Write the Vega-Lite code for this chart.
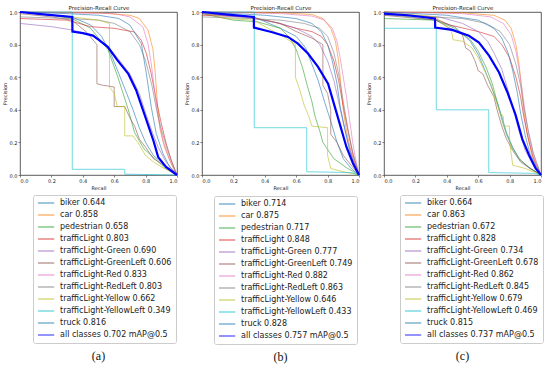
{
"$schema":"https://vega.github.io/schema/vega-lite/v6.json",
"background":"white",
"padding":{"left":1,"top":4,"right":2,"bottom":2},
"config":{
 "font":"DejaVu Sans",
 "view":{"stroke":"#333","strokeWidth":0.8},
 "axis":{"labelFont":"DejaVu Sans","labelFontSize":5,"labelColor":"#222","titleFont":"DejaVu Sans","titleFontSize":5,"titleFontWeight":"normal","titleColor":"#222","tickSize":2,"tickColor":"#333","tickWidth":0.6,"domain":false,"grid":false,"labelPadding":1,"titlePadding":2},
 "title":{"font":"Liberation Serif","fontSize":12,"fontWeight":"normal","color":"#111","offset":7},
 "legend":{"orient":"none","strokeColor":"#ccc","fillColor":"white","cornerRadius":2,"padding":4,"labelFont":"DejaVu Sans","labelFontSize":8,"labelColor":"#222","rowPadding":4,"symbolType":"M-1,0H4.4","symbolSize":36,"symbolStrokeWidth":1.3,"symbolOpacity":0.65,"labelOffset":15,"labelLimit":300}
},
"datasets":{
"a":[
{"s":"biker 0.644","r":0,"p":1},{"s":"biker 0.644","r":0.2,"p":0.98},{"s":"biker 0.644","r":0.33,"p":0.97},{"s":"biker 0.644","r":0.45,"p":0.92},{"s":"biker 0.644","r":0.52,"p":0.85},{"s":"biker 0.644","r":0.58,"p":0.74},{"s":"biker 0.644","r":0.63,"p":0.62},{"s":"biker 0.644","r":0.68,"p":0.5},{"s":"biker 0.644","r":0.72,"p":0.4},{"s":"biker 0.644","r":0.76,"p":0.29},{"s":"biker 0.644","r":0.8,"p":0.2},{"s":"biker 0.644","r":0.85,"p":0.12},{"s":"biker 0.644","r":0.92,"p":0.06},{"s":"biker 0.644","r":1,"p":0},
{"s":"car 0.858","r":0,"p":1},{"s":"car 0.858","r":0.5,"p":0.995},{"s":"car 0.858","r":0.7,"p":0.98},{"s":"car 0.858","r":0.76,"p":0.96},{"s":"car 0.858","r":0.815,"p":0.89},{"s":"car 0.858","r":0.847,"p":0.77},{"s":"car 0.858","r":0.862,"p":0.62},{"s":"car 0.858","r":0.875,"p":0.44},{"s":"car 0.858","r":0.89,"p":0.29},{"s":"car 0.858","r":0.92,"p":0.17},{"s":"car 0.858","r":0.964,"p":0.07},{"s":"car 0.858","r":1,"p":0},
{"s":"pedestrian 0.658","r":0,"p":1},{"s":"pedestrian 0.658","r":0.2,"p":0.98},{"s":"pedestrian 0.658","r":0.33,"p":0.96},{"s":"pedestrian 0.658","r":0.45,"p":0.9},{"s":"pedestrian 0.658","r":0.56,"p":0.77},{"s":"pedestrian 0.658","r":0.62,"p":0.61},{"s":"pedestrian 0.658","r":0.69,"p":0.4},{"s":"pedestrian 0.658","r":0.73,"p":0.26},{"s":"pedestrian 0.658","r":0.79,"p":0.16},{"s":"pedestrian 0.658","r":0.86,"p":0.1},{"s":"pedestrian 0.658","r":0.92,"p":0.045},{"s":"pedestrian 0.658","r":1,"p":0},
{"s":"trafficLight 0.803","r":0,"p":0.96},{"s":"trafficLight 0.803","r":0.3,"p":0.95},{"s":"trafficLight 0.803","r":0.45,"p":0.91},{"s":"trafficLight 0.803","r":0.6,"p":0.9},{"s":"trafficLight 0.803","r":0.73,"p":0.877},{"s":"trafficLight 0.803","r":0.773,"p":0.826},{"s":"trafficLight 0.803","r":0.805,"p":0.745},{"s":"trafficLight 0.803","r":0.836,"p":0.62},{"s":"trafficLight 0.803","r":0.868,"p":0.46},{"s":"trafficLight 0.803","r":0.9,"p":0.315},{"s":"trafficLight 0.803","r":0.932,"p":0.19},{"s":"trafficLight 0.803","r":0.964,"p":0.09},{"s":"trafficLight 0.803","r":1,"p":0},
{"s":"trafficLight-Green 0.690","r":0,"p":0.93},{"s":"trafficLight-Green 0.690","r":0.2,"p":0.91},{"s":"trafficLight-Green 0.690","r":0.33,"p":0.89},{"s":"trafficLight-Green 0.690","r":0.45,"p":0.86},{"s":"trafficLight-Green 0.690","r":0.55,"p":0.8},{"s":"trafficLight-Green 0.690","r":0.62,"p":0.72},{"s":"trafficLight-Green 0.690","r":0.7,"p":0.62},{"s":"trafficLight-Green 0.690","r":0.76,"p":0.5},{"s":"trafficLight-Green 0.690","r":0.8,"p":0.38},{"s":"trafficLight-Green 0.690","r":0.84,"p":0.27},{"s":"trafficLight-Green 0.690","r":0.88,"p":0.17},{"s":"trafficLight-Green 0.690","r":0.93,"p":0.08},{"s":"trafficLight-Green 0.690","r":1,"p":0},
{"s":"trafficLight-GreenLeft 0.606","r":0,"p":0.99},{"s":"trafficLight-GreenLeft 0.606","r":0.2,"p":0.97},{"s":"trafficLight-GreenLeft 0.606","r":0.33,"p":0.95},{"s":"trafficLight-GreenLeft 0.606","r":0.42,"p":0.88},{"s":"trafficLight-GreenLeft 0.606","r":0.49,"p":0.8},{"s":"trafficLight-GreenLeft 0.606","r":0.49,"p":0.56},{"s":"trafficLight-GreenLeft 0.606","r":0.53,"p":0.55},{"s":"trafficLight-GreenLeft 0.606","r":0.6,"p":0.54},{"s":"trafficLight-GreenLeft 0.606","r":0.6,"p":0.42},{"s":"trafficLight-GreenLeft 0.606","r":0.667,"p":0.42},{"s":"trafficLight-GreenLeft 0.606","r":0.7,"p":0.35},{"s":"trafficLight-GreenLeft 0.606","r":0.73,"p":0.3},{"s":"trafficLight-GreenLeft 0.606","r":0.76,"p":0.22},{"s":"trafficLight-GreenLeft 0.606","r":0.8,"p":0.17},{"s":"trafficLight-GreenLeft 0.606","r":0.85,"p":0.1},{"s":"trafficLight-GreenLeft 0.606","r":0.9,"p":0.07},{"s":"trafficLight-GreenLeft 0.606","r":1,"p":0},
{"s":"trafficLight-Red 0.833","r":0,"p":1},{"s":"trafficLight-Red 0.833","r":0.3,"p":0.995},{"s":"trafficLight-Red 0.833","r":0.6,"p":0.99},{"s":"trafficLight-Red 0.833","r":0.7,"p":0.97},{"s":"trafficLight-Red 0.833","r":0.783,"p":0.908},{"s":"trafficLight-Red 0.833","r":0.815,"p":0.806},{"s":"trafficLight-Red 0.833","r":0.836,"p":0.683},{"s":"trafficLight-Red 0.833","r":0.857,"p":0.52},{"s":"trafficLight-Red 0.833","r":0.879,"p":0.355},{"s":"trafficLight-Red 0.833","r":0.911,"p":0.212},{"s":"trafficLight-Red 0.833","r":0.953,"p":0.09},{"s":"trafficLight-Red 0.833","r":1,"p":0},
{"s":"trafficLight-RedLeft 0.803","r":0,"p":0.97},{"s":"trafficLight-RedLeft 0.803","r":0.3,"p":0.96},{"s":"trafficLight-RedLeft 0.803","r":0.5,"p":0.95},{"s":"trafficLight-RedLeft 0.803","r":0.6,"p":0.93},{"s":"trafficLight-RedLeft 0.803","r":0.7,"p":0.88},{"s":"trafficLight-RedLeft 0.803","r":0.76,"p":0.8},{"s":"trafficLight-RedLeft 0.803","r":0.8,"p":0.7},{"s":"trafficLight-RedLeft 0.803","r":0.84,"p":0.55},{"s":"trafficLight-RedLeft 0.803","r":0.87,"p":0.4},{"s":"trafficLight-RedLeft 0.803","r":0.9,"p":0.28},{"s":"trafficLight-RedLeft 0.803","r":0.94,"p":0.15},{"s":"trafficLight-RedLeft 0.803","r":0.97,"p":0.07},{"s":"trafficLight-RedLeft 0.803","r":1,"p":0},
{"s":"trafficLight-Yellow 0.662","r":0,"p":1},{"s":"trafficLight-Yellow 0.662","r":0.33,"p":0.97},{"s":"trafficLight-Yellow 0.662","r":0.5,"p":0.95},{"s":"trafficLight-Yellow 0.662","r":0.57,"p":0.93},{"s":"trafficLight-Yellow 0.662","r":0.57,"p":0.54},{"s":"trafficLight-Yellow 0.662","r":0.6,"p":0.5},{"s":"trafficLight-Yellow 0.662","r":0.62,"p":0.42},{"s":"trafficLight-Yellow 0.662","r":0.667,"p":0.42},{"s":"trafficLight-Yellow 0.662","r":0.667,"p":0.24},{"s":"trafficLight-Yellow 0.662","r":0.72,"p":0.24},{"s":"trafficLight-Yellow 0.662","r":0.75,"p":0.2},{"s":"trafficLight-Yellow 0.662","r":0.8,"p":0.12},{"s":"trafficLight-Yellow 0.662","r":0.85,"p":0.08},{"s":"trafficLight-Yellow 0.662","r":0.9,"p":0.05},{"s":"trafficLight-Yellow 0.662","r":1,"p":0},
{"s":"trafficLight-YellowLeft 0.349","r":0,"p":1},{"s":"trafficLight-YellowLeft 0.349","r":0.333,"p":1},{"s":"trafficLight-YellowLeft 0.349","r":0.333,"p":0.035},{"s":"trafficLight-YellowLeft 0.349","r":0.667,"p":0.035},{"s":"trafficLight-YellowLeft 0.349","r":0.667,"p":0.005},{"s":"trafficLight-YellowLeft 0.349","r":1,"p":0},
{"s":"truck 0.816","r":0,"p":1},{"s":"truck 0.816","r":0.3,"p":0.99},{"s":"truck 0.816","r":0.5,"p":0.98},{"s":"truck 0.816","r":0.63,"p":0.96},{"s":"truck 0.816","r":0.7,"p":0.92},{"s":"truck 0.816","r":0.773,"p":0.806},{"s":"truck 0.816","r":0.805,"p":0.62},{"s":"truck 0.816","r":0.836,"p":0.417},{"s":"truck 0.816","r":0.868,"p":0.254},{"s":"truck 0.816","r":0.911,"p":0.13},{"s":"truck 0.816","r":0.953,"p":0.05},{"s":"truck 0.816","r":1,"p":0},
{"s":"all classes 0.702 mAP@0.5","r":0,"p":1},{"s":"all classes 0.702 mAP@0.5","r":0.15,"p":0.985},{"s":"all classes 0.702 mAP@0.5","r":0.333,"p":0.97},{"s":"all classes 0.702 mAP@0.5","r":0.334,"p":0.88},{"s":"all classes 0.702 mAP@0.5","r":0.4,"p":0.87},{"s":"all classes 0.702 mAP@0.5","r":0.465,"p":0.855},{"s":"all classes 0.702 mAP@0.5","r":0.5,"p":0.83},{"s":"all classes 0.702 mAP@0.5","r":0.56,"p":0.785},{"s":"all classes 0.702 mAP@0.5","r":0.62,"p":0.705},{"s":"all classes 0.702 mAP@0.5","r":0.69,"p":0.62},{"s":"all classes 0.702 mAP@0.5","r":0.74,"p":0.52},{"s":"all classes 0.702 mAP@0.5","r":0.79,"p":0.38},{"s":"all classes 0.702 mAP@0.5","r":0.85,"p":0.21},{"s":"all classes 0.702 mAP@0.5","r":0.88,"p":0.11},{"s":"all classes 0.702 mAP@0.5","r":0.93,"p":0.05},{"s":"all classes 0.702 mAP@0.5","r":1,"p":0}
],
"b":[
{"s":"biker 0.714","r":0,"p":1},{"s":"biker 0.714","r":0.33,"p":0.97},{"s":"biker 0.714","r":0.5,"p":0.9},{"s":"biker 0.714","r":0.6,"p":0.85},{"s":"biker 0.714","r":0.66,"p":0.78},{"s":"biker 0.714","r":0.7,"p":0.68},{"s":"biker 0.714","r":0.74,"p":0.58},{"s":"biker 0.714","r":0.78,"p":0.45},{"s":"biker 0.714","r":0.82,"p":0.33},{"s":"biker 0.714","r":0.86,"p":0.2},{"s":"biker 0.714","r":0.9,"p":0.1},{"s":"biker 0.714","r":0.95,"p":0.04},{"s":"biker 0.714","r":1,"p":0},
{"s":"car 0.875","r":0,"p":1},{"s":"car 0.875","r":0.5,"p":0.995},{"s":"car 0.875","r":0.7,"p":0.985},{"s":"car 0.875","r":0.77,"p":0.96},{"s":"car 0.875","r":0.82,"p":0.9},{"s":"car 0.875","r":0.85,"p":0.82},{"s":"car 0.875","r":0.87,"p":0.7},{"s":"car 0.875","r":0.885,"p":0.55},{"s":"car 0.875","r":0.9,"p":0.4},{"s":"car 0.875","r":0.92,"p":0.27},{"s":"car 0.875","r":0.95,"p":0.14},{"s":"car 0.875","r":0.98,"p":0.05},{"s":"car 0.875","r":1,"p":0},
{"s":"pedestrian 0.717","r":0,"p":0.99},{"s":"pedestrian 0.717","r":0.2,"p":0.95},{"s":"pedestrian 0.717","r":0.35,"p":0.94},{"s":"pedestrian 0.717","r":0.5,"p":0.9},{"s":"pedestrian 0.717","r":0.56,"p":0.84},{"s":"pedestrian 0.717","r":0.6,"p":0.77},{"s":"pedestrian 0.717","r":0.64,"p":0.66},{"s":"pedestrian 0.717","r":0.67,"p":0.55},{"s":"pedestrian 0.717","r":0.7,"p":0.45},{"s":"pedestrian 0.717","r":0.72,"p":0.36},{"s":"pedestrian 0.717","r":0.75,"p":0.27},{"s":"pedestrian 0.717","r":0.77,"p":0.2},{"s":"pedestrian 0.717","r":0.84,"p":0.1},{"s":"pedestrian 0.717","r":0.92,"p":0.045},{"s":"pedestrian 0.717","r":1,"p":0},
{"s":"trafficLight 0.848","r":0,"p":0.98},{"s":"trafficLight 0.848","r":0.3,"p":0.97},{"s":"trafficLight 0.848","r":0.45,"p":0.94},{"s":"trafficLight 0.848","r":0.6,"p":0.9},{"s":"trafficLight 0.848","r":0.7,"p":0.88},{"s":"trafficLight 0.848","r":0.76,"p":0.85},{"s":"trafficLight 0.848","r":0.8,"p":0.8},{"s":"trafficLight 0.848","r":0.84,"p":0.7},{"s":"trafficLight 0.848","r":0.87,"p":0.58},{"s":"trafficLight 0.848","r":0.9,"p":0.42},{"s":"trafficLight 0.848","r":0.93,"p":0.27},{"s":"trafficLight 0.848","r":0.96,"p":0.13},{"s":"trafficLight 0.848","r":1,"p":0},
{"s":"trafficLight-Green 0.777","r":0,"p":0.99},{"s":"trafficLight-Green 0.777","r":0.33,"p":0.96},{"s":"trafficLight-Green 0.777","r":0.5,"p":0.93},{"s":"trafficLight-Green 0.777","r":0.6,"p":0.9},{"s":"trafficLight-Green 0.777","r":0.7,"p":0.85},{"s":"trafficLight-Green 0.777","r":0.75,"p":0.8},{"s":"trafficLight-Green 0.777","r":0.8,"p":0.7},{"s":"trafficLight-Green 0.777","r":0.84,"p":0.58},{"s":"trafficLight-Green 0.777","r":0.87,"p":0.45},{"s":"trafficLight-Green 0.777","r":0.9,"p":0.32},{"s":"trafficLight-Green 0.777","r":0.93,"p":0.2},{"s":"trafficLight-Green 0.777","r":0.96,"p":0.1},{"s":"trafficLight-Green 0.777","r":1,"p":0},
{"s":"trafficLight-GreenLeft 0.749","r":0,"p":0.99},{"s":"trafficLight-GreenLeft 0.749","r":0.3,"p":0.97},{"s":"trafficLight-GreenLeft 0.749","r":0.5,"p":0.93},{"s":"trafficLight-GreenLeft 0.749","r":0.6,"p":0.88},{"s":"trafficLight-GreenLeft 0.749","r":0.7,"p":0.84},{"s":"trafficLight-GreenLeft 0.749","r":0.77,"p":0.8},{"s":"trafficLight-GreenLeft 0.749","r":0.77,"p":0.55},{"s":"trafficLight-GreenLeft 0.749","r":0.8,"p":0.5},{"s":"trafficLight-GreenLeft 0.749","r":0.82,"p":0.4},{"s":"trafficLight-GreenLeft 0.749","r":0.82,"p":0.25},{"s":"trafficLight-GreenLeft 0.749","r":0.86,"p":0.2},{"s":"trafficLight-GreenLeft 0.749","r":0.9,"p":0.12},{"s":"trafficLight-GreenLeft 0.749","r":0.95,"p":0.06},{"s":"trafficLight-GreenLeft 0.749","r":1,"p":0},
{"s":"trafficLight-Red 0.882","r":0,"p":1},{"s":"trafficLight-Red 0.882","r":0.5,"p":0.99},{"s":"trafficLight-Red 0.882","r":0.7,"p":0.975},{"s":"trafficLight-Red 0.882","r":0.78,"p":0.95},{"s":"trafficLight-Red 0.882","r":0.83,"p":0.9},{"s":"trafficLight-Red 0.882","r":0.86,"p":0.82},{"s":"trafficLight-Red 0.882","r":0.88,"p":0.72},{"s":"trafficLight-Red 0.882","r":0.9,"p":0.6},{"s":"trafficLight-Red 0.882","r":0.92,"p":0.48},{"s":"trafficLight-Red 0.882","r":0.94,"p":0.34},{"s":"trafficLight-Red 0.882","r":0.96,"p":0.2},{"s":"trafficLight-Red 0.882","r":0.98,"p":0.09},{"s":"trafficLight-Red 0.882","r":1,"p":0},
{"s":"trafficLight-RedLeft 0.863","r":0,"p":0.97},{"s":"trafficLight-RedLeft 0.863","r":0.3,"p":0.96},{"s":"trafficLight-RedLeft 0.863","r":0.5,"p":0.95},{"s":"trafficLight-RedLeft 0.863","r":0.65,"p":0.93},{"s":"trafficLight-RedLeft 0.863","r":0.75,"p":0.9},{"s":"trafficLight-RedLeft 0.863","r":0.8,"p":0.85},{"s":"trafficLight-RedLeft 0.863","r":0.84,"p":0.75},{"s":"trafficLight-RedLeft 0.863","r":0.87,"p":0.62},{"s":"trafficLight-RedLeft 0.863","r":0.9,"p":0.45},{"s":"trafficLight-RedLeft 0.863","r":0.93,"p":0.28},{"s":"trafficLight-RedLeft 0.863","r":0.96,"p":0.14},{"s":"trafficLight-RedLeft 0.863","r":1,"p":0},
{"s":"trafficLight-Yellow 0.646","r":0,"p":1},{"s":"trafficLight-Yellow 0.646","r":0.15,"p":0.96},{"s":"trafficLight-Yellow 0.646","r":0.33,"p":0.95},{"s":"trafficLight-Yellow 0.646","r":0.42,"p":0.9},{"s":"trafficLight-Yellow 0.646","r":0.5,"p":0.86},{"s":"trafficLight-Yellow 0.646","r":0.595,"p":0.8},{"s":"trafficLight-Yellow 0.646","r":0.595,"p":0.6},{"s":"trafficLight-Yellow 0.646","r":0.62,"p":0.53},{"s":"trafficLight-Yellow 0.646","r":0.65,"p":0.43},{"s":"trafficLight-Yellow 0.646","r":0.68,"p":0.36},{"s":"trafficLight-Yellow 0.646","r":0.7,"p":0.3},{"s":"trafficLight-Yellow 0.646","r":0.8,"p":0.29},{"s":"trafficLight-Yellow 0.646","r":0.8,"p":0.12},{"s":"trafficLight-Yellow 0.646","r":0.82,"p":0.04},{"s":"trafficLight-Yellow 0.646","r":0.9,"p":0.02},{"s":"trafficLight-Yellow 0.646","r":1,"p":0},
{"s":"trafficLight-YellowLeft 0.433","r":0,"p":1},{"s":"trafficLight-YellowLeft 0.433","r":0.333,"p":1},{"s":"trafficLight-YellowLeft 0.433","r":0.333,"p":0.29},{"s":"trafficLight-YellowLeft 0.433","r":0.667,"p":0.29},{"s":"trafficLight-YellowLeft 0.433","r":0.667,"p":0.02},{"s":"trafficLight-YellowLeft 0.433","r":0.95,"p":0.015},{"s":"trafficLight-YellowLeft 0.433","r":1,"p":0},
{"s":"truck 0.828","r":0,"p":1},{"s":"truck 0.828","r":0.4,"p":0.98},{"s":"truck 0.828","r":0.6,"p":0.96},{"s":"truck 0.828","r":0.7,"p":0.93},{"s":"truck 0.828","r":0.76,"p":0.88},{"s":"truck 0.828","r":0.8,"p":0.8},{"s":"truck 0.828","r":0.83,"p":0.7},{"s":"truck 0.828","r":0.86,"p":0.56},{"s":"truck 0.828","r":0.88,"p":0.42},{"s":"truck 0.828","r":0.91,"p":0.28},{"s":"truck 0.828","r":0.94,"p":0.15},{"s":"truck 0.828","r":0.97,"p":0.06},{"s":"truck 0.828","r":1,"p":0},
{"s":"all classes 0.757 mAP@0.5","r":0,"p":1},{"s":"all classes 0.757 mAP@0.5","r":0.15,"p":0.985},{"s":"all classes 0.757 mAP@0.5","r":0.33,"p":0.97},{"s":"all classes 0.757 mAP@0.5","r":0.331,"p":0.904},{"s":"all classes 0.757 mAP@0.5","r":0.442,"p":0.877},{"s":"all classes 0.757 mAP@0.5","r":0.548,"p":0.847},{"s":"all classes 0.757 mAP@0.5","r":0.611,"p":0.806},{"s":"all classes 0.757 mAP@0.5","r":0.675,"p":0.745},{"s":"all classes 0.757 mAP@0.5","r":0.739,"p":0.663},{"s":"all classes 0.757 mAP@0.5","r":0.803,"p":0.56},{"s":"all classes 0.757 mAP@0.5","r":0.834,"p":0.458},{"s":"all classes 0.757 mAP@0.5","r":0.877,"p":0.315},{"s":"all classes 0.757 mAP@0.5","r":0.92,"p":0.172},{"s":"all classes 0.757 mAP@0.5","r":0.962,"p":0.07},{"s":"all classes 0.757 mAP@0.5","r":1,"p":0}
],
"c":[
{"s":"biker 0.664","r":0,"p":0.99},{"s":"biker 0.664","r":0.33,"p":0.95},{"s":"biker 0.664","r":0.45,"p":0.91},{"s":"biker 0.664","r":0.55,"p":0.82},{"s":"biker 0.664","r":0.6,"p":0.74},{"s":"biker 0.664","r":0.64,"p":0.65},{"s":"biker 0.664","r":0.68,"p":0.55},{"s":"biker 0.664","r":0.72,"p":0.45},{"s":"biker 0.664","r":0.75,"p":0.36},{"s":"biker 0.664","r":0.78,"p":0.26},{"s":"biker 0.664","r":0.82,"p":0.17},{"s":"biker 0.664","r":0.86,"p":0.1},{"s":"biker 0.664","r":0.92,"p":0.05},{"s":"biker 0.664","r":1,"p":0},
{"s":"car 0.863","r":0,"p":1},{"s":"car 0.863","r":0.5,"p":0.995},{"s":"car 0.863","r":0.7,"p":0.98},{"s":"car 0.863","r":0.77,"p":0.95},{"s":"car 0.863","r":0.81,"p":0.9},{"s":"car 0.863","r":0.84,"p":0.8},{"s":"car 0.863","r":0.86,"p":0.68},{"s":"car 0.863","r":0.875,"p":0.55},{"s":"car 0.863","r":0.89,"p":0.4},{"s":"car 0.863","r":0.91,"p":0.26},{"s":"car 0.863","r":0.94,"p":0.13},{"s":"car 0.863","r":0.97,"p":0.05},{"s":"car 0.863","r":1,"p":0},
{"s":"pedestrian 0.672","r":0,"p":0.96},{"s":"pedestrian 0.672","r":0.33,"p":0.95},{"s":"pedestrian 0.672","r":0.45,"p":0.9},{"s":"pedestrian 0.672","r":0.55,"p":0.83},{"s":"pedestrian 0.672","r":0.6,"p":0.76},{"s":"pedestrian 0.672","r":0.65,"p":0.66},{"s":"pedestrian 0.672","r":0.69,"p":0.56},{"s":"pedestrian 0.672","r":0.72,"p":0.45},{"s":"pedestrian 0.672","r":0.75,"p":0.34},{"s":"pedestrian 0.672","r":0.78,"p":0.25},{"s":"pedestrian 0.672","r":0.82,"p":0.16},{"s":"pedestrian 0.672","r":0.87,"p":0.09},{"s":"pedestrian 0.672","r":0.93,"p":0.04},{"s":"pedestrian 0.672","r":1,"p":0},
{"s":"trafficLight 0.828","r":0,"p":0.99},{"s":"trafficLight 0.828","r":0.3,"p":0.97},{"s":"trafficLight 0.828","r":0.42,"p":0.92},{"s":"trafficLight 0.828","r":0.6,"p":0.88},{"s":"trafficLight 0.828","r":0.7,"p":0.85},{"s":"trafficLight 0.828","r":0.75,"p":0.8},{"s":"trafficLight 0.828","r":0.8,"p":0.72},{"s":"trafficLight 0.828","r":0.84,"p":0.6},{"s":"trafficLight 0.828","r":0.87,"p":0.48},{"s":"trafficLight 0.828","r":0.89,"p":0.36},{"s":"trafficLight 0.828","r":0.92,"p":0.22},{"s":"trafficLight 0.828","r":0.95,"p":0.11},{"s":"trafficLight 0.828","r":1,"p":0},
{"s":"trafficLight-Green 0.734","r":0,"p":0.99},{"s":"trafficLight-Green 0.734","r":0.35,"p":0.97},{"s":"trafficLight-Green 0.734","r":0.5,"p":0.93},{"s":"trafficLight-Green 0.734","r":0.6,"p":0.88},{"s":"trafficLight-Green 0.734","r":0.66,"p":0.82},{"s":"trafficLight-Green 0.734","r":0.7,"p":0.75},{"s":"trafficLight-Green 0.734","r":0.75,"p":0.65},{"s":"trafficLight-Green 0.734","r":0.79,"p":0.52},{"s":"trafficLight-Green 0.734","r":0.83,"p":0.38},{"s":"trafficLight-Green 0.734","r":0.86,"p":0.27},{"s":"trafficLight-Green 0.734","r":0.9,"p":0.15},{"s":"trafficLight-Green 0.734","r":0.95,"p":0.06},{"s":"trafficLight-Green 0.734","r":1,"p":0},
{"s":"trafficLight-GreenLeft 0.678","r":0,"p":0.98},{"s":"trafficLight-GreenLeft 0.678","r":0.33,"p":0.95},{"s":"trafficLight-GreenLeft 0.678","r":0.42,"p":0.9},{"s":"trafficLight-GreenLeft 0.678","r":0.5,"p":0.86},{"s":"trafficLight-GreenLeft 0.678","r":0.52,"p":0.78},{"s":"trafficLight-GreenLeft 0.678","r":0.55,"p":0.76},{"s":"trafficLight-GreenLeft 0.678","r":0.58,"p":0.7},{"s":"trafficLight-GreenLeft 0.678","r":0.6,"p":0.64},{"s":"trafficLight-GreenLeft 0.678","r":0.63,"p":0.62},{"s":"trafficLight-GreenLeft 0.678","r":0.66,"p":0.55},{"s":"trafficLight-GreenLeft 0.678","r":0.7,"p":0.48},{"s":"trafficLight-GreenLeft 0.678","r":0.72,"p":0.4},{"s":"trafficLight-GreenLeft 0.678","r":0.75,"p":0.3},{"s":"trafficLight-GreenLeft 0.678","r":0.78,"p":0.22},{"s":"trafficLight-GreenLeft 0.678","r":0.82,"p":0.15},{"s":"trafficLight-GreenLeft 0.678","r":0.87,"p":0.08},{"s":"trafficLight-GreenLeft 0.678","r":0.93,"p":0.04},{"s":"trafficLight-GreenLeft 0.678","r":1,"p":0},
{"s":"trafficLight-Red 0.862","r":0,"p":1},{"s":"trafficLight-Red 0.862","r":0.5,"p":0.99},{"s":"trafficLight-Red 0.862","r":0.68,"p":0.97},{"s":"trafficLight-Red 0.862","r":0.76,"p":0.93},{"s":"trafficLight-Red 0.862","r":0.81,"p":0.86},{"s":"trafficLight-Red 0.862","r":0.84,"p":0.76},{"s":"trafficLight-Red 0.862","r":0.86,"p":0.65},{"s":"trafficLight-Red 0.862","r":0.88,"p":0.52},{"s":"trafficLight-Red 0.862","r":0.9,"p":0.38},{"s":"trafficLight-Red 0.862","r":0.92,"p":0.25},{"s":"trafficLight-Red 0.862","r":0.95,"p":0.13},{"s":"trafficLight-Red 0.862","r":0.98,"p":0.04},{"s":"trafficLight-Red 0.862","r":1,"p":0},
{"s":"trafficLight-RedLeft 0.845","r":0,"p":0.98},{"s":"trafficLight-RedLeft 0.845","r":0.3,"p":0.97},{"s":"trafficLight-RedLeft 0.845","r":0.5,"p":0.96},{"s":"trafficLight-RedLeft 0.845","r":0.65,"p":0.93},{"s":"trafficLight-RedLeft 0.845","r":0.74,"p":0.88},{"s":"trafficLight-RedLeft 0.845","r":0.8,"p":0.8},{"s":"trafficLight-RedLeft 0.845","r":0.84,"p":0.68},{"s":"trafficLight-RedLeft 0.845","r":0.87,"p":0.55},{"s":"trafficLight-RedLeft 0.845","r":0.89,"p":0.42},{"s":"trafficLight-RedLeft 0.845","r":0.92,"p":0.27},{"s":"trafficLight-RedLeft 0.845","r":0.95,"p":0.14},{"s":"trafficLight-RedLeft 0.845","r":1,"p":0},
{"s":"trafficLight-Yellow 0.679","r":0,"p":1},{"s":"trafficLight-Yellow 0.679","r":0.33,"p":0.97},{"s":"trafficLight-Yellow 0.679","r":0.43,"p":0.88},{"s":"trafficLight-Yellow 0.679","r":0.44,"p":0.83},{"s":"trafficLight-Yellow 0.679","r":0.5,"p":0.82},{"s":"trafficLight-Yellow 0.679","r":0.56,"p":0.78},{"s":"trafficLight-Yellow 0.679","r":0.6,"p":0.72},{"s":"trafficLight-Yellow 0.679","r":0.64,"p":0.64},{"s":"trafficLight-Yellow 0.679","r":0.68,"p":0.56},{"s":"trafficLight-Yellow 0.679","r":0.71,"p":0.46},{"s":"trafficLight-Yellow 0.679","r":0.74,"p":0.38},{"s":"trafficLight-Yellow 0.679","r":0.76,"p":0.36},{"s":"trafficLight-Yellow 0.679","r":0.76,"p":0.3},{"s":"trafficLight-Yellow 0.679","r":0.8,"p":0.3},{"s":"trafficLight-Yellow 0.679","r":0.8,"p":0.2},{"s":"trafficLight-Yellow 0.679","r":0.82,"p":0.06},{"s":"trafficLight-Yellow 0.679","r":0.9,"p":0.04},{"s":"trafficLight-Yellow 0.679","r":1,"p":0},
{"s":"trafficLight-YellowLeft 0.469","r":0,"p":0.9},{"s":"trafficLight-YellowLeft 0.469","r":0.333,"p":0.9},{"s":"trafficLight-YellowLeft 0.469","r":0.333,"p":0.4},{"s":"trafficLight-YellowLeft 0.469","r":0.667,"p":0.4},{"s":"trafficLight-YellowLeft 0.469","r":0.667,"p":0.015},{"s":"trafficLight-YellowLeft 0.469","r":0.95,"p":0.01},{"s":"trafficLight-YellowLeft 0.469","r":1,"p":0},
{"s":"truck 0.815","r":0,"p":1},{"s":"truck 0.815","r":0.4,"p":0.98},{"s":"truck 0.815","r":0.6,"p":0.95},{"s":"truck 0.815","r":0.7,"p":0.9},{"s":"truck 0.815","r":0.75,"p":0.84},{"s":"truck 0.815","r":0.79,"p":0.75},{"s":"truck 0.815","r":0.82,"p":0.64},{"s":"truck 0.815","r":0.85,"p":0.5},{"s":"truck 0.815","r":0.87,"p":0.38},{"s":"truck 0.815","r":0.9,"p":0.24},{"s":"truck 0.815","r":0.93,"p":0.13},{"s":"truck 0.815","r":0.97,"p":0.05},{"s":"truck 0.815","r":1,"p":0},
{"s":"all classes 0.737 mAP@0.5","r":0,"p":0.99},{"s":"all classes 0.737 mAP@0.5","r":0.15,"p":0.98},{"s":"all classes 0.737 mAP@0.5","r":0.325,"p":0.96},{"s":"all classes 0.737 mAP@0.5","r":0.326,"p":0.905},{"s":"all classes 0.737 mAP@0.5","r":0.435,"p":0.89},{"s":"all classes 0.737 mAP@0.5","r":0.541,"p":0.854},{"s":"all classes 0.737 mAP@0.5","r":0.605,"p":0.813},{"s":"all classes 0.737 mAP@0.5","r":0.669,"p":0.732},{"s":"all classes 0.737 mAP@0.5","r":0.732,"p":0.63},{"s":"all classes 0.737 mAP@0.5","r":0.786,"p":0.508},{"s":"all classes 0.737 mAP@0.5","r":0.839,"p":0.366},{"s":"all classes 0.737 mAP@0.5","r":0.881,"p":0.22},{"s":"all classes 0.737 mAP@0.5","r":0.924,"p":0.122},{"s":"all classes 0.737 mAP@0.5","r":0.966,"p":0.04},{"s":"all classes 0.737 mAP@0.5","r":1,"p":0}
]
},
"hconcat":[
{
 "width":157,"height":163,
 "title":{"text":"(a)","orient":"bottom","anchor":"middle"},
 "data":{"name":"a"},
 "encoding":{
  "x":{"field":"r","type":"quantitative","scale":{"domain":[0,1],"nice":false},"axis":{"title":"Recall","values":[0,0.2,0.4,0.6,0.8,1],"format":".1f"}},
  "y":{"field":"p","type":"quantitative","scale":{"domain":[0,1],"nice":false},"axis":{"title":"Precision","values":[0,0.2,0.4,0.6,0.8,1],"format":".1f"}},
  "color":{"field":"s","type":"nominal","scale":{"domain":["biker 0.644","car 0.858","pedestrian 0.658","trafficLight 0.803","trafficLight-Green 0.690","trafficLight-GreenLeft 0.606","trafficLight-Red 0.833","trafficLight-RedLeft 0.803","trafficLight-Yellow 0.662","trafficLight-YellowLeft 0.349","truck 0.816","all classes 0.702 mAP@0.5"],"range":["#1f77b4","#ff7f0e","#2ca02c","#d62728","#9467bd","#8c564b","#e377c2","#7f7f7f","#bcbd22","#17becf","#1f77b4","#0000ff"]},
    "legend":{"title":null,"legendX":13,"legendY":183}}
 },
 "layer":[
  {"transform":[{"filter":"indexof(datum.s,'all classes')<0"}],"mark":{"type":"line","strokeWidth":1,"opacity":0.6}},
  {"transform":[{"filter":"indexof(datum.s,'all classes')===0"}],"mark":{"type":"line","strokeWidth":2.2},
   "encoding":{"x":{"field":"r","type":"quantitative","scale":{"domain":[0,1],"nice":false},"axis":{"orient":"top","title":"Precision-Recall Curve","titleFontSize":5.5,"labels":false,"ticks":false,"titlePadding":2}}}}
 ],
 "resolve":{"axis":{"x":"independent"}}
},
{
 "width":157,"height":163,
 "title":{"text":"(b)","orient":"bottom","anchor":"middle"},
 "data":{"name":"b"},
 "encoding":{
  "x":{"field":"r","type":"quantitative","scale":{"domain":[0,1],"nice":false},"axis":{"title":"Recall","values":[0,0.2,0.4,0.6,0.8,1],"format":".1f"}},
  "y":{"field":"p","type":"quantitative","scale":{"domain":[0,1],"nice":false},"axis":{"title":"Precision","values":[0,0.2,0.4,0.6,0.8,1],"format":".1f"}},
  "color":{"field":"s","type":"nominal","scale":{"domain":["biker 0.714","car 0.875","pedestrian 0.717","trafficLight 0.848","trafficLight-Green 0.777","trafficLight-GreenLeft 0.749","trafficLight-Red 0.882","trafficLight-RedLeft 0.863","trafficLight-Yellow 0.646","trafficLight-YellowLeft 0.433","truck 0.828","all classes 0.757 mAP@0.5"],"range":["#1f77b4","#ff7f0e","#2ca02c","#d62728","#9467bd","#8c564b","#e377c2","#7f7f7f","#bcbd22","#17becf","#1f77b4","#0000ff"]},
    "legend":{"title":null,"legendX":12,"legendY":184}}
 },
 "layer":[
  {"transform":[{"filter":"indexof(datum.s,'all classes')<0"}],"mark":{"type":"line","strokeWidth":1,"opacity":0.6}},
  {"transform":[{"filter":"indexof(datum.s,'all classes')===0"}],"mark":{"type":"line","strokeWidth":2.2},
   "encoding":{"x":{"field":"r","type":"quantitative","scale":{"domain":[0,1],"nice":false},"axis":{"orient":"top","title":"Precision-Recall Curve","titleFontSize":5.5,"labels":false,"ticks":false,"titlePadding":2}}}}
 ],
 "resolve":{"axis":{"x":"independent"}}
},
{
 "width":157,"height":163,
 "title":{"text":"(c)","orient":"bottom","anchor":"middle"},
 "data":{"name":"c"},
 "encoding":{
  "x":{"field":"r","type":"quantitative","scale":{"domain":[0,1],"nice":false},"axis":{"title":"Recall","values":[0,0.2,0.4,0.6,0.8,1],"format":".1f"}},
  "y":{"field":"p","type":"quantitative","scale":{"domain":[0,1],"nice":false},"axis":{"title":"Precision","values":[0,0.2,0.4,0.6,0.8,1],"format":".1f"}},
  "color":{"field":"s","type":"nominal","scale":{"domain":["biker 0.664","car 0.863","pedestrian 0.672","trafficLight 0.828","trafficLight-Green 0.734","trafficLight-GreenLeft 0.678","trafficLight-Red 0.862","trafficLight-RedLeft 0.845","trafficLight-Yellow 0.679","trafficLight-YellowLeft 0.469","truck 0.815","all classes 0.737 mAP@0.5"],"range":["#1f77b4","#ff7f0e","#2ca02c","#d62728","#9467bd","#8c564b","#e377c2","#7f7f7f","#bcbd22","#17becf","#1f77b4","#0000ff"]},
    "legend":{"title":null,"legendX":16,"legendY":183}}
 },
 "layer":[
  {"transform":[{"filter":"indexof(datum.s,'all classes')<0"}],"mark":{"type":"line","strokeWidth":1,"opacity":0.6}},
  {"transform":[{"filter":"indexof(datum.s,'all classes')===0"}],"mark":{"type":"line","strokeWidth":2.2},
   "encoding":{"x":{"field":"r","type":"quantitative","scale":{"domain":[0,1],"nice":false},"axis":{"orient":"top","title":"Precision-Recall Curve","titleFontSize":5.5,"labels":false,"ticks":false,"titlePadding":2}}}}
 ],
 "resolve":{"axis":{"x":"independent"}}
}
],
"spacing":25,
"bounds":"flush",
"resolve":{"scale":{"color":"independent"},"legend":{"color":"independent"}}
}
